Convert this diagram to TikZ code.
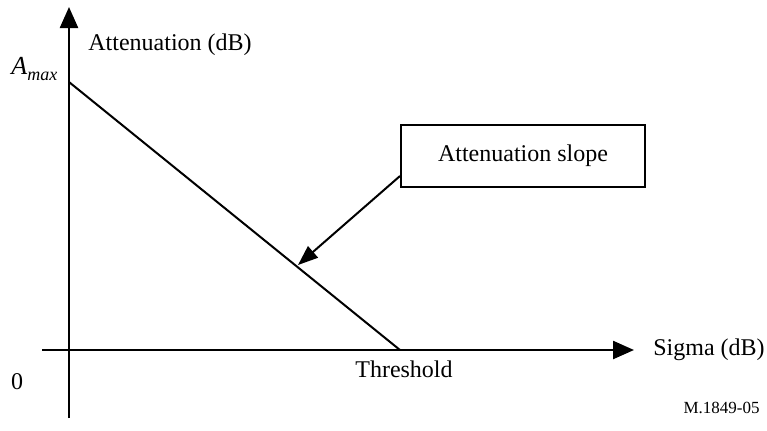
\documentclass[tikz,border=0pt]{standalone}
\usepackage{fontspec}
\setmainfont{Liberation Serif}
\usetikzlibrary{arrows.meta}
\begin{document}
\begin{tikzpicture}[x=0.5pt,y=-0.5pt,
  axis/.style={line width=1.2pt,-{Triangle[width=9pt,length=10.5pt]}},
  lbl/.style={font=\fontsize{12}{14}\selectfont,inner sep=0pt},
  callout/.style={draw,line width=1pt,minimum width=122pt,minimum height=31pt,inner sep=0pt,font=\fontsize{12}{14}\selectfont},
  pointer/.style={line width=1pt,-{Triangle[width=7.5pt,length=10pt]}},
  slope/.style={line width=1pt}]
\useasboundingbox (0,0) rectangle (767,430);
\coordinate (ybot) at (69,418);
\coordinate (ytop) at (69,7);
\coordinate (xl) at (42,350);
\coordinate (xr) at (634,350);
\coordinate (amax) at (69,82);
\coordinate (thr) at (400,350);
\coordinate (tip) at (298,265);
\draw[axis] (ybot) -- (ytop);
\draw[axis] (xl) -- (xr);
\draw[slope] (amax) -- (thr);
\node[callout] (box) at (523,156) {Attenuation slope};
\draw[pointer] (box.west |- 0,176) -- (tip);
\node[lbl,anchor=west] (ylab) at (88,45) {Attenuation (dB)};
\node[lbl,anchor=west] (xlab) at (653,350) {Sigma (dB)};
\node[lbl] (thlab) at (404,369) {Threshold};
\node[lbl] (zero) at (17,382) {0};
\node[lbl,anchor=west] (amlab) at (11,69) {\fontsize{13}{15}\selectfont\itshape A\raisebox{-0.45ex}{\fontsize{9}{10}\selectfont max}};
\node[lbl,anchor=east,font=\fontsize{8.5}{10}\selectfont] (fig) at (760,408) {M.1849-05};
\end{tikzpicture}
\end{document}
